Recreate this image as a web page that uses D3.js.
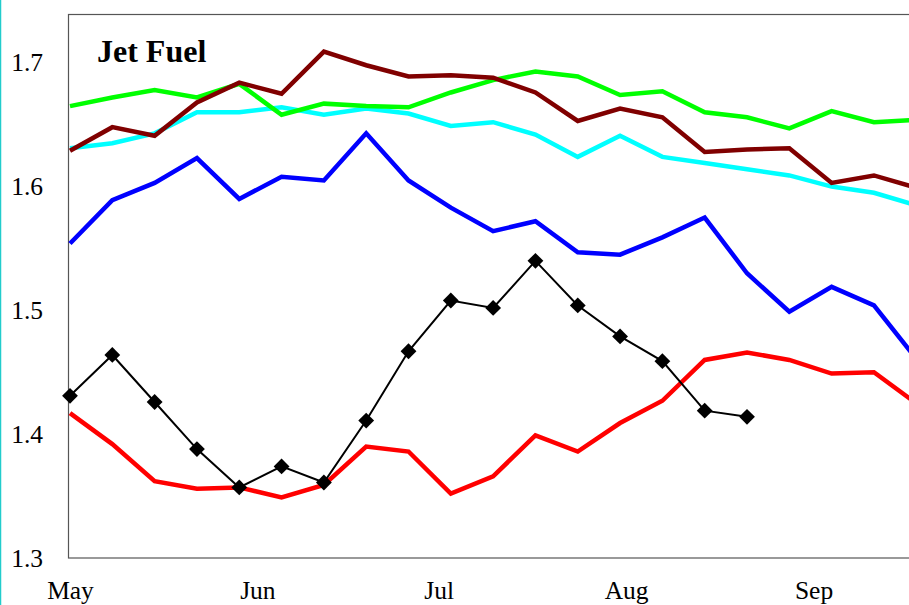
<!DOCTYPE html>
<html>
<head>
<meta charset="utf-8">
<script src="https://cdn.jsdelivr.net/npm/d3@7"></script>
<style>
  body { margin: 0; background: #fff; }
  svg { display: block; }
  .axis text { font-family: "Liberation Serif", "Times New Roman", serif; font-size: 25.5px; fill: #000; }
  .axis path, .axis line { display: none; }
</style>
</head>
<body>
<div id="graph"></div>
<script>
// week starting dates (one point per week from May 1)
var startDate = new Date(Date.UTC(2000, 4, 1));
var weekCount = 21;
var weeks = d3.range(weekCount).map(function(i) { return d3.utcDay.offset(startDate, 7 * i); });

// series values ($ per gallon)
var green  = [1.665, 1.672, 1.678, 1.672, 1.683, 1.658, 1.667, 1.665, 1.664, 1.676, 1.686,
              1.693, 1.689, 1.674, 1.677, 1.660, 1.656, 1.647, 1.661, 1.652, 1.654];
var maroon = [1.629, 1.648, 1.641, 1.668, 1.684, 1.675, 1.709, 1.698, 1.689, 1.690, 1.688,
              1.676, 1.653, 1.663, 1.656, 1.628, 1.630, 1.631, 1.603, 1.609, 1.599];
var cyan   = [1.631, 1.635, 1.643, 1.660, 1.660, 1.664, 1.658, 1.663, 1.659, 1.649, 1.652,
              1.642, 1.624, 1.641, 1.624, 1.619, 1.614, 1.609, 1.600, 1.595, 1.585];
var blue   = [1.554, 1.589, 1.603, 1.623, 1.590, 1.608, 1.605, 1.643, 1.605, 1.583, 1.564,
              1.572, 1.547, 1.545, 1.559, 1.575, 1.530, 1.499, 1.519, 1.504, 1.461];
var red    = [1.417, 1.392, 1.362, 1.356, 1.357, 1.349, 1.359, 1.390, 1.386, 1.352, 1.366,
              1.399, 1.386, 1.409, 1.427, 1.460, 1.466, 1.460, 1.449, 1.450, 1.425];
var current = [1.431, 1.464, 1.426, 1.388, 1.357, 1.374, 1.361, 1.411, 1.467, 1.508, 1.502,
               1.540, 1.504, 1.479, 1.459, 1.419, 1.414];

var yTicks = [1.3, 1.4, 1.5, 1.6, 1.7];
var monthTicks = [0, 1, 2, 3, 4].map(function(m) { return new Date(Date.UTC(2000, 4 + m, 1)); });
var monthNames = ["May", "Jun", "Jul", "Aug", "Sep"];

var width = 909, height = 605;
var plot = { left: 68.5, top: 14.5, bottom: 558 };

var x = d3.scaleUtc()
    .domain([monthTicks[0], monthTicks[4]])
    .range([70, 813.5]);
var y = d3.scaleLinear()
    .domain([1.3, 1.739])
    .range([plot.bottom, plot.top]);

var svg = d3.select("#graph")
    .append("svg")
        .attr("width", width)
        .attr("height", height);

// teal strip on the left edge
svg.append("line")
    .attr("x1", 0.5).attr("x2", 0.5)
    .attr("y1", 0).attr("y2", height)
    .attr("stroke", "#22cccc")
    .attr("stroke-width", 1.5);

// plot frame (right side runs off the page)
svg.append("rect")
    .attr("x", plot.left)
    .attr("y", plot.top)
    .attr("width", width + 20 - plot.left)
    .attr("height", plot.bottom - plot.top)
    .attr("fill", "none")
    .attr("stroke", "#555")
    .attr("stroke-width", 1.2);

// Y axis labels
svg.append("g")
    .attr("class", "axis")
    .attr("transform", "translate(" + 53 + ",0)")
    .call(d3.axisLeft(y).tickValues(yTicks).tickSize(0).tickPadding(10)
        .tickFormat(d3.format(".1f")));

// X axis labels
svg.append("g")
    .attr("class", "axis")
    .attr("transform", "translate(0," + plot.bottom + ")")
    .call(d3.axisBottom(x).tickValues(monthTicks).tickSize(0).tickPadding(23)
        .tickFormat(function(d, i) { return monthNames[i]; }));

// title
svg.append("text")
    .attr("x", 97)
    .attr("y", 62)
    .attr("font-family", "Liberation Serif, Times New Roman, serif")
    .attr("font-weight", "bold")
    .attr("font-size", 32)
    .text("Jet Fuel");

var line = d3.line()
    .x(function(d, i) { return x(weeks[i]); })
    .y(function(d) { return y(d); });

var series = [
    { values: red, color: "#ff0000" },
    { values: blue, color: "#0000ff" },
    { values: cyan, color: "#00ffff" },
    { values: green, color: "#00ff00" },
    { values: maroon, color: "#800000" }
];

series.forEach(function(s) {
    svg.append("path")
        .datum(s.values)
        .attr("fill", "none")
        .attr("stroke", s.color)
        .attr("stroke-width", 4.5)
        .attr("stroke-linejoin", "miter")
        .attr("d", line);
});

// current year, black with diamonds
svg.append("path")
    .datum(current)
    .attr("fill", "none")
    .attr("stroke", "#000")
    .attr("stroke-width", 2)
    .attr("d", line);

svg.selectAll(".marker")
    .data(current)
    .enter().append("path")
        .attr("class", "marker")
        .attr("d", d3.symbol().type(d3.symbolSquare).size(125))
        .attr("transform", function(d, i) {
            return "translate(" + x(weeks[i]) + "," + y(d) + ") rotate(45)";
        })
        .attr("fill", "#000");
</script>
</body>
</html>
